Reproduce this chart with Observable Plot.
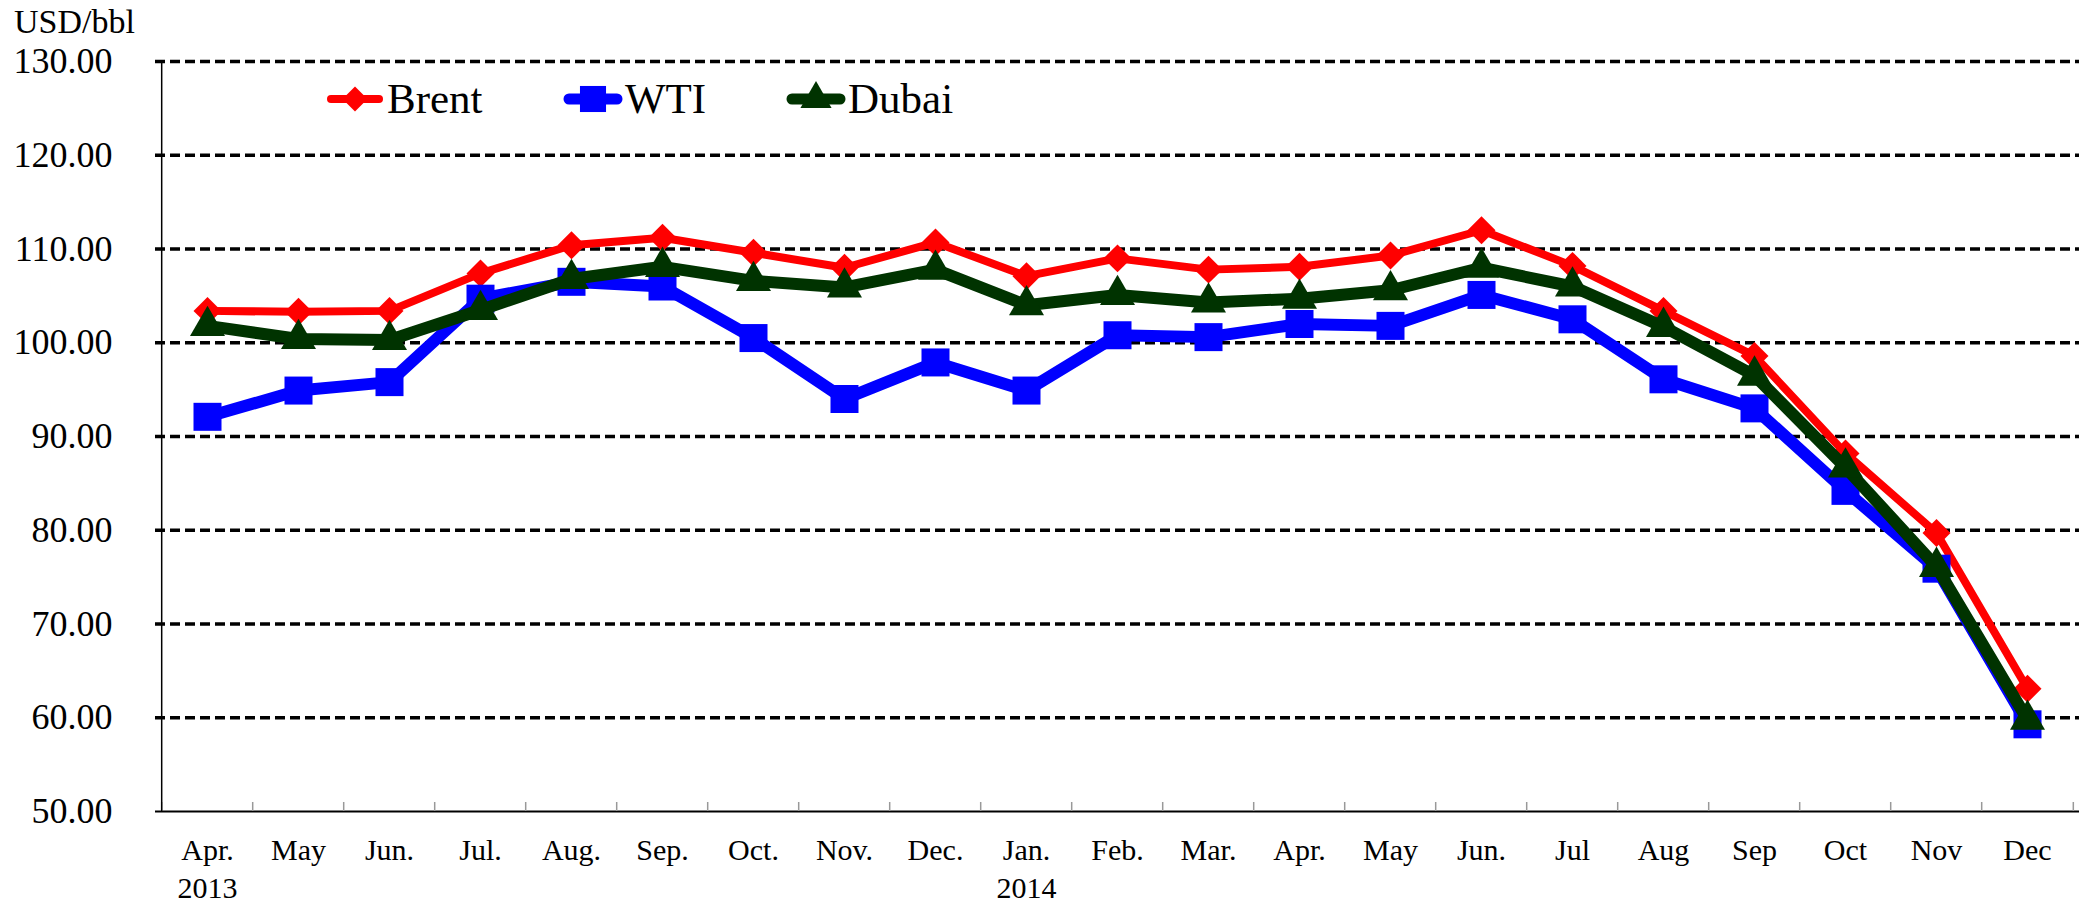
<!DOCTYPE html>
<html>
<head>
<meta charset="utf-8">
<script src="https://cdn.jsdelivr.net/npm/d3@7"></script>
<script src="https://cdn.jsdelivr.net/npm/@observablehq/plot@0.6"></script>
<style>
  html, body { margin: 0; padding: 0; background: #fff; }
  #wrap { position: relative; width: 2087px; height: 907px; }
  #overlay { position: absolute; left: 0; top: 0; pointer-events: none; }
</style>
</head>
<body>
<div id="wrap"></div>
<script>
// ---- data ----
const months = ["Apr.","May","Jun.","Jul.","Aug.","Sep.","Oct.","Nov.","Dec.","Jan.","Feb.","Mar.","Apr.","May","Jun.","Jul","Aug","Sep","Oct","Nov","Dec"];
const years  = ["2013","","","","","","","","","2014","","","","","","","","","","",""];
const brent  = [103.4,103.3,103.4,107.4,110.4,111.2,109.6,108.0,110.7,107.1,109.0,107.8,108.1,109.3,112.0,108.2,103.4,98.6,88.2,79.7,63.1];
const wti    = [92.1,94.9,95.8,104.7,106.5,106.0,100.5,94.0,97.9,94.9,100.8,100.6,102.0,101.8,105.1,102.5,96.1,93.0,84.2,75.9,59.3];
const dubai  = [101.8,100.4,100.3,103.5,106.8,108.1,106.6,105.9,107.8,104.0,105.1,104.3,104.7,105.6,108.0,106.0,101.7,96.5,86.7,76.1,59.8];
const yTicks = [50,60,70,80,90,100,110,120,130];
const gridVals = [60,70,80,90,100,110,120,130];
const seriesNames = ["Brent","WTI","Dubai"];
const seriesColors = ["#FF0000","#0000FF","#003300"];
const yUnit = "USD/bbl";

// ---- layout ----
const W = 2087, H = 907;
const mL = 155, mR = 8, mT = 61, mB = 96;
const keys = months.map((_, i) => i);
const step = (W - mL - mR) / keys.length;
const plotH = H - mT - mB;
const font = "Liberation Serif, Times New Roman, serif";

const rows = keys.map(i => ({i, brent: brent[i], wti: wti[i], dubai: dubai[i]}));

const chart = Plot.plot({
  width: W, height: H,
  marginLeft: mL, marginRight: mR, marginTop: mT, marginBottom: mB,
  style: {fontFamily: font, background: "white", color: "black", overflow: "visible"},
  x: {type: "point", domain: keys, padding: 0.5, axis: null},
  y: {domain: [50, 130], axis: null},
  marks: [
    Plot.ruleY(gridVals, {stroke: "black", strokeWidth: 3.5, strokeDasharray: "10,5"}),
    Plot.ruleY([50], {stroke: "black", strokeWidth: 2}),
    Plot.tickX(keys, {x: d => d, dx: -step / 2, insetTop: plotH - 9, stroke: "#999", strokeWidth: 1.5}),
    Plot.tickX([keys[keys.length - 1]], {x: d => d, dx: step / 2, insetTop: plotH - 9, stroke: "#999", strokeWidth: 1.5}),
    Plot.tickX([keys[0]], {x: d => d, dx: -step / 2, stroke: "black", strokeWidth: 1.5}),
    Plot.axisY({ticks: yTicks, tickFormat: d => d.toFixed(2), tickSize: 0, tickPadding: 43, fontSize: 36, label: null}),
    Plot.axisX({ticks: keys, tickSize: 0, tickPadding: 21, fontSize: 30, lineHeight: 1.27,
      tickFormat: i => years[i] ? months[i] + "\n" + years[i] : months[i], label: null}),
    // Brent
    Plot.line(rows, {x: "i", y: "brent", stroke: seriesColors[0], strokeWidth: 8, strokeLinejoin: "round"}),
    Plot.dot(rows, {x: "i", y: "brent", symbol: "diamond2", r: 12.6, fill: seriesColors[0], stroke: "none"}),
    // WTI
    Plot.line(rows, {x: "i", y: "wti", stroke: seriesColors[1], strokeWidth: 12, strokeLinejoin: "round"}),
    Plot.dot(rows, {x: "i", y: "wti", symbol: "square", r: 15.8, fill: seriesColors[1], stroke: "none"}),
    // Dubai
    Plot.line(rows, {x: "i", y: "dubai", stroke: seriesColors[2], strokeWidth: 12, strokeLinejoin: "round"}),
    Plot.dot(rows, {x: "i", y: "dubai", symbol: "triangle", r: 13, fill: seriesColors[2], stroke: "none"})
  ]
});

const wrap = document.getElementById("wrap");
wrap.appendChild(chart);

// ---- overlay: unit label and legend ----
const svg = d3.select(wrap).append("svg")
  .attr("id", "overlay").attr("width", 1100).attr("height", 140)
  .style("font-family", font);

svg.append("text").attr("x", 14).attr("y", 33).attr("font-size", 34).text(yUnit);

const legendX = [327, 565, 788];
const symbols = [
  d3.symbol(d3.symbolDiamond2, 400),
  d3.symbol(d3.symbolSquare, 680),
  d3.symbol(d3.symbolTriangle, 420)
];
const lineW = [8, 11, 11];
seriesNames.forEach((name, k) => {
  const g = svg.append("g").attr("transform", `translate(${legendX[k]},99)`);
  g.append("line").attr("x1", 4).attr("x2", 52).attr("y1", 0).attr("y2", 0)
    .attr("stroke", seriesColors[k]).attr("stroke-width", lineW[k]).attr("stroke-linecap", "round");
  g.append("path").attr("d", symbols[k]()).attr("transform", "translate(28,0)").attr("fill", seriesColors[k]);
  svg.append("text").attr("x", legendX[k] + 60).attr("y", 113).attr("font-size", 43).text(name);
});
</script>
</body>
</html>
